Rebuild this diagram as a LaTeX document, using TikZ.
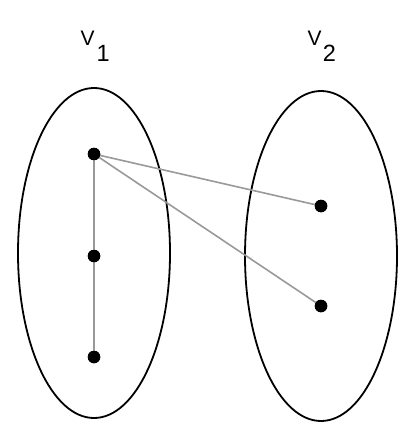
\documentclass[tikz,border=0pt]{standalone}
\usepackage{fontspec}
\setmainfont{Liberation Sans}
\begin{document}
\begin{tikzpicture}[x=1pt,y=-1pt,
  vert/.style={circle,fill=black,inner sep=0pt,minimum size=12.5pt},
  edge/.style={draw=black!40,line width=1.6pt},
  part/.style={line width=1.8pt},
  lbl/.style={anchor=base west,inner sep=0pt}]
\useasboundingbox (0,0) rectangle (415,441);
\draw[part] (94,253) ellipse [x radius=76, y radius=165];
\draw[part] (321,256) ellipse [x radius=76, y radius=165];
\node[lbl] (l1) at (80.5,45.7) {\fontsize{21}{21}\selectfont V\hspace{1.8pt}\raisebox{-16pt}{\fontsize{23.5}{24}\selectfont 1}};
\node[lbl] (l2) at (307.5,45.2) {\fontsize{21}{21}\selectfont V\hspace{1.2pt}\raisebox{-16pt}{\fontsize{23.5}{24}\selectfont 2}};
\node[vert] (a) at (94,154) {};
\node[vert] (b) at (94,256) {};
\node[vert] (c) at (94,357) {};
\node[vert] (d) at (321,206) {};
\node[vert] (e) at (321,306) {};
\draw[edge] (a.center) -- (b.center);
\draw[edge] (b.center) -- (c.center);
\draw[edge] (a.center) -- (d.center);
\draw[edge] (a.center) -- (e.center);
\node[vert] at (a) {};
\node[vert] at (b) {};
\node[vert] at (c) {};
\node[vert] at (d) {};
\node[vert] at (e) {};
\end{tikzpicture}
\end{document}
